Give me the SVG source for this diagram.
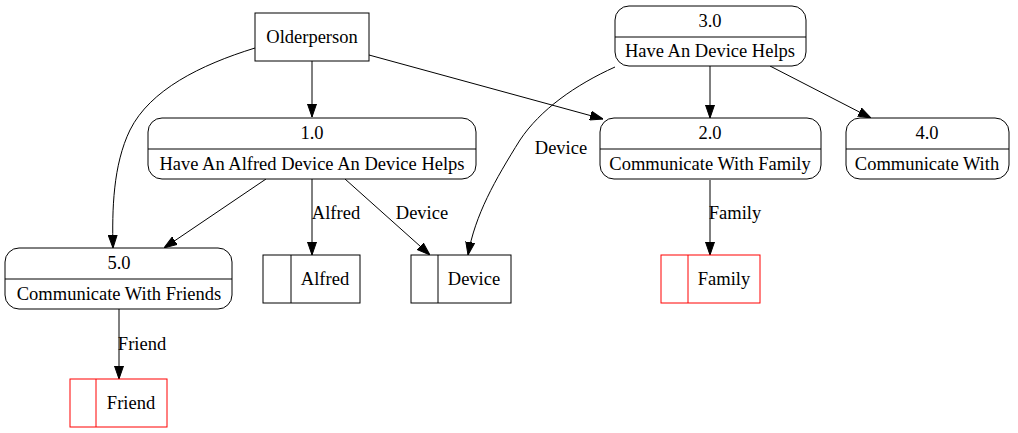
<svg xmlns="http://www.w3.org/2000/svg" width="1018" height="433" viewBox="0 0 1018 433">
<style>
.n{fill:#fff;stroke:#000;stroke-width:1}
.r{fill:#fff;stroke:#ff0000;stroke-width:1}
.e{fill:none;stroke:#000;stroke-width:1}
.l{fill:none;stroke:#000;stroke-width:1}
.lr{fill:none;stroke:#ff0000;stroke-width:1}
</style>
<defs>
<marker id="a" markerWidth="13" markerHeight="10" viewBox="0 0 13 10" refX="13" refY="5" orient="auto" markerUnits="userSpaceOnUse">
<path d="M0,0.5 L13,5 L0,9.5 Z" fill="#000" stroke="#000" stroke-width="1"/>
</marker>
</defs>
<rect width="1018" height="433" fill="#fff"/>
<g id="connectors">
<path class="e" d="M312,61 L312,117" marker-end="url(#a)"/>
<path class="e" d="M255,48 C200,65 150,90 130,130 C113,165 112,210 113,248" marker-end="url(#a)"/>
<path class="e" d="M369,55 L603,119" marker-end="url(#a)"/>
<path class="e" d="M266,179 L164,248" marker-end="url(#a)"/>
<path class="e" d="M312,179 L312,255" marker-end="url(#a)"/>
<path class="e" d="M345,179 L430,255" marker-end="url(#a)"/>
<path class="e" d="M615,67 C575,85 540,110 520,140 C495,180 475,215 468,255" marker-end="url(#a)"/>
<path class="e" d="M710,66 L710,118" marker-end="url(#a)"/>
<path class="e" d="M770,66 L871,118" marker-end="url(#a)"/>
<path class="e" d="M710,180 L710,255" marker-end="url(#a)"/>
<path class="e" d="M119,309 L119,379" marker-end="url(#a)"/>
</g>
<g font-family="'Liberation Serif', 'Times New Roman', serif" font-size="18.5" text-anchor="middle" fill="#000">
<text x="336" y="219">Alfred</text>
<text x="422" y="219">Device</text>
<text x="561" y="154">Device</text>
<text x="735" y="219">Family</text>
<text x="142" y="350">Friend</text>
<g id="olderperson">
<rect class="n" x="255" y="13" width="114" height="48"/>
<text x="312" y="43">Olderperson</text>
</g>
<g id="p3">
<rect class="n" x="615" y="6" width="191" height="60" rx="14"/>
<line class="l" x1="615" y1="37" x2="806" y2="37"/>
<text x="710" y="27">3.0</text>
<text x="710" y="57">Have An Device Helps</text>
</g>
<g id="p1">
<rect class="n" x="148" y="118" width="328" height="61" rx="14"/>
<line class="l" x1="148" y1="149" x2="476" y2="149"/>
<text x="312" y="139">1.0</text>
<text x="312" y="170">Have An Alfred Device An Device Helps</text>
</g>
<g id="p2">
<rect class="n" x="600" y="118" width="221" height="61" rx="14"/>
<line class="l" x1="600" y1="149" x2="821" y2="149"/>
<text x="710" y="139">2.0</text>
<text x="710" y="170">Communicate With Family</text>
</g>
<g id="p4">
<rect class="n" x="846" y="118" width="163" height="61" rx="14"/>
<line class="l" x1="846" y1="149" x2="1009" y2="149"/>
<text x="927" y="139">4.0</text>
<text x="927" y="170">Communicate With</text>
</g>
<g id="p5">
<rect class="n" x="5" y="248" width="227" height="61" rx="14"/>
<line class="l" x1="5" y1="279" x2="232" y2="279"/>
<text x="119" y="269">5.0</text>
<text x="119" y="300">Communicate With Friends</text>
</g>
<g id="alfred">
<rect class="n" x="263" y="255" width="97" height="48"/>
<line class="l" x1="291" y1="255" x2="291" y2="303"/>
<text x="325" y="285">Alfred</text>
</g>
<g id="device">
<rect class="n" x="411" y="255" width="100" height="48"/>
<line class="l" x1="438" y1="255" x2="438" y2="303"/>
<text x="474" y="285">Device</text>
</g>
<g id="family">
<rect class="r" x="661" y="255" width="99" height="48"/>
<line class="lr" x1="688" y1="255" x2="688" y2="303"/>
<text x="724" y="285">Family</text>
</g>
<g id="friend">
<rect class="r" x="70" y="379" width="97" height="48"/>
<line class="lr" x1="96" y1="379" x2="96" y2="427"/>
<text x="131" y="409">Friend</text>
</g>
</g>
</svg>
